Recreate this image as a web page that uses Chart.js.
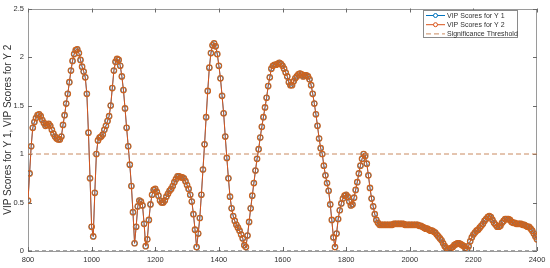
<!DOCTYPE html>
<html>
<head>
<meta charset="utf-8">
<script src="https://cdn.jsdelivr.net/npm/chart.js@4.4.1/dist/chart.umd.min.js"></script>
<style>
  html, body { margin: 0; padding: 0; background: #fff; }
  #wrap { width: 550px; height: 268px; }
</style>
</head>
<body>
<div id="wrap"><canvas id="vipChart" width="550" height="268"></canvas></div>
<script>
// wavelength grid: 800..2400, every 5
const startWavelength = 800;
const stepWavelength = 5;

// VIP scores (Y 1 and Y 2 overlap almost exactly)
const vipY1 = [
  0.52, 0.80, 1.08, 1.27, 1.33, 1.37, 1.40, 1.41, 1.39, 1.35, // 800
  1.32, 1.29, 1.30, 1.31, 1.29, 1.25, 1.21, 1.18, 1.16, 1.15, // 850
  1.15, 1.18, 1.30, 1.40, 1.52, 1.62, 1.74, 1.86, 1.96, 2.03, // 900
  2.07, 2.08, 2.04, 1.97, 1.90, 1.85, 1.79, 1.62, 1.22, 0.75, // 950
  0.25, 0.15, 0.60, 1.00, 1.14, 1.17, 1.18, 1.20, 1.25, 1.29, // 1000
  1.34, 1.39, 1.50, 1.68, 1.86, 1.95, 1.98, 1.97, 1.91, 1.80, // 1050
  1.66, 1.47, 1.27, 1.08, 0.89, 0.67, 0.40, 0.08, 0.25, 0.46, // 1100
  0.52, 0.51, 0.47, 0.28, 0.05, 0.12, 0.32, 0.48, 0.58, 0.63, // 1150
  0.64, 0.61, 0.57, 0.52, 0.50, 0.50, 0.52, 0.56, 0.59, 0.62, // 1200
  0.64, 0.67, 0.71, 0.74, 0.77, 0.77, 0.76, 0.76, 0.75, 0.72, // 1250
  0.68, 0.64, 0.58, 0.51, 0.38, 0.22, 0.04, 0.18, 0.34, 0.58, // 1300
  0.84, 1.10, 1.38, 1.65, 1.89, 2.04, 2.12, 2.14, 2.11, 2.03, // 1350
  1.91, 1.78, 1.60, 1.42, 1.18, 0.96, 0.75, 0.56, 0.44, 0.36, // 1400
  0.31, 0.27, 0.24, 0.21, 0.17, 0.13, 0.06, 0.04, 0.16, 0.30, // 1450
  0.44, 0.57, 0.70, 0.83, 0.95, 1.05, 1.17, 1.28, 1.38, 1.48, // 1500
  1.58, 1.70, 1.79, 1.88, 1.91, 1.92, 1.92, 1.93, 1.94, 1.93, // 1550
  1.91, 1.88, 1.84, 1.80, 1.74, 1.71, 1.71, 1.75, 1.78, 1.80, // 1600
  1.82, 1.83, 1.82, 1.80, 1.81, 1.81, 1.80, 1.77, 1.71, 1.62, // 1650
  1.52, 1.41, 1.29, 1.16, 1.06, 1.00, 0.88, 0.78, 0.70, 0.62, // 1700
  0.48, 0.32, 0.14, 0.04, 0.18, 0.33, 0.42, 0.49, 0.54, 0.57, // 1750
  0.58, 0.56, 0.51, 0.47, 0.48, 0.55, 0.63, 0.71, 0.80, 0.88, // 1800
  0.95, 1.00, 0.98, 0.90, 0.78, 0.65, 0.54, 0.46, 0.38, 0.32, // 1850
  0.29, 0.27, 0.27, 0.27, 0.27, 0.27, 0.27, 0.27, 0.27, 0.27, // 1900
  0.28, 0.28, 0.28, 0.28, 0.28, 0.28, 0.28, 0.27, 0.27, 0.27, // 1950
  0.27, 0.27, 0.27, 0.27, 0.27, 0.27, 0.26, 0.26, 0.25, 0.24, // 2000
  0.23, 0.23, 0.22, 0.21, 0.21, 0.20, 0.19, 0.17, 0.15, 0.13, // 2050
  0.11, 0.08, 0.05, 0.03, 0.02, 0.02, 0.03, 0.04, 0.06, 0.07, // 2100
  0.08, 0.08, 0.07, 0.06, 0.05, 0.03, 0.02, 0.05, 0.10, 0.14, // 2150
  0.17, 0.19, 0.21, 0.22, 0.24, 0.26, 0.28, 0.31, 0.33, 0.35, // 2200
  0.36, 0.35, 0.32, 0.29, 0.27, 0.25, 0.25, 0.26, 0.29, 0.31, // 2250
  0.33, 0.33, 0.33, 0.32, 0.30, 0.29, 0.29, 0.28, 0.28, 0.28, // 2300
  0.28, 0.27, 0.27, 0.26, 0.25, 0.25, 0.23, 0.21, 0.18, 0.15, // 2350
  0.12                                                        // 2400
];
const vipY2 = vipY1.slice();

const wavelengths = vipY1.map((_, i) => startWavelength + i * stepWavelength);

const thresholdX = [800, 2400];
const thresholdY = [1, 1];
const baseY = [0, 0];

const xTicks = [800, 1000, 1200, 1400, 1600, 1800, 2000, 2200, 2400];
const yTicks = [0, 0.5, 1, 1.5, 2, 2.5];

const FONT = "'Liberation Sans', Arial, Helvetica, sans-serif";
const TEXT = "#303030";
const AXIS = "#9a9a9a";

function toPoints(xs, ys) {
  return xs.map((x, i) => ({ x: x, y: ys[i] }));
}

// box around the axes + inward ticks, matlab style
const axesBox = {
  id: "axesBox",
  beforeDatasetsDraw(chart) {
    const { ctx, chartArea: a, scales } = chart;
    ctx.save();
    ctx.strokeStyle = AXIS;
    ctx.lineWidth = 1;
    ctx.strokeRect(Math.round(a.left) + 0.5, Math.round(a.top) + 0.5,
      Math.round(a.width) - 1, Math.round(a.height) - 1);
    ctx.strokeStyle = "#6a6a6a";
    ctx.beginPath();
    xTicks.forEach(v => {
      const px = Math.round(scales.x.getPixelForValue(v)) + 0.5;
      ctx.moveTo(px, a.top); ctx.lineTo(px, a.top + 4);
      ctx.moveTo(px, a.bottom); ctx.lineTo(px, a.bottom - 4);
    });
    yTicks.forEach(v => {
      const py = Math.round(scales.y.getPixelForValue(v)) + 0.5;
      ctx.moveTo(a.left, py); ctx.lineTo(a.left + 4, py);
      ctx.moveTo(a.right, py); ctx.lineTo(a.right - 4, py);
    });
    ctx.stroke();
    ctx.restore();
  }
};

// legend box in the top right corner of the axes
const legendBox = {
  id: "legendBox",
  afterDraw(chart) {
    const { ctx, chartArea: a } = chart;
    const items = chart.data.datasets.filter(d => d.inLegend);
    const w = 95, h = 28;
    const left = Math.round(a.right) - 19 - w;
    const top = Math.round(a.top) + 1;
    ctx.save();
    ctx.fillStyle = "#fff";
    ctx.fillRect(left, top, w, h);
    ctx.strokeStyle = "#8a8a8a";
    ctx.lineWidth = 1;
    ctx.strokeRect(left + 0.5, top + 0.5, w - 1, h - 1);
    ctx.font = "7px " + FONT;
    ctx.textBaseline = "middle";
    items.forEach((d, i) => {
      const cy = top + 5.5 + i * 9.2;
      ctx.strokeStyle = d.borderColor;
      ctx.lineWidth = 1;
      ctx.setLineDash(d.borderDash || []);
      ctx.beginPath();
      ctx.moveTo(left + 3, cy);
      ctx.lineTo(left + 22, cy);
      ctx.stroke();
      ctx.setLineDash([]);
      if (d.pointRadius > 0) {
        ctx.fillStyle = "#fff";
        ctx.beginPath();
        ctx.arc(left + 12.5, cy, 2, 0, Math.PI * 2);
        ctx.fill();
        ctx.stroke();
      }
      ctx.fillStyle = TEXT;
      ctx.fillText(d.label, left + 24, cy + 0.5);
    });
    ctx.restore();
  }
};

new Chart(document.getElementById("vipChart"), {
  type: "line",
  data: {
    datasets: [
      {
        label: "VIP Scores for Y 1",
        data: toPoints(wavelengths, vipY1),
        borderColor: "#0072BD",
        backgroundColor: "rgba(0,0,0,0)",
        borderWidth: 0.8,
        pointRadius: 2.5,
        pointBorderWidth: 1,
        pointBackgroundColor: "rgba(0,0,0,0)",
        pointBorderColor: "#0072BD",
        order: 3,
        inLegend: true
      },
      {
        label: "VIP Scores for Y 2",
        data: toPoints(wavelengths, vipY2),
        borderColor: "#D95319",
        backgroundColor: "rgba(0,0,0,0)",
        borderWidth: 1,
        pointRadius: 2.8,
        pointBorderWidth: 1.1,
        pointBackgroundColor: "rgba(0,0,0,0)",
        pointBorderColor: "#CC6420",
        order: 2,
        inLegend: true
      },
      {
        label: "Significance Threshold",
        data: toPoints(thresholdX, thresholdY),
        borderColor: "#C98a60",
        borderWidth: 1,
        borderDash: [5, 3],
        pointRadius: 0,
        order: 1,
        inLegend: true
      },
      {
        label: "zero",
        data: toPoints(thresholdX, baseY),
        borderColor: "#4a4a4a",
        borderWidth: 1,
        borderDash: [4, 3],
        pointRadius: 0,
        order: 0,
        inLegend: false
      }
    ]
  },
  options: {
    responsive: false,
    devicePixelRatio: 1,
    animation: false,
    layout: { padding: { left: 0, right: 13, top: 6, bottom: 0 } },
    plugins: {
      legend: { display: false },
      tooltip: { enabled: false }
    },
    scales: {
      x: {
        type: "linear",
        min: 800,
        max: 2400,
        afterFit(scale) { scale.height = 17; },
        afterBuildTicks(scale) { scale.ticks = xTicks.map(v => ({ value: v })); },
        ticks: {
          autoSkip: false,
          maxRotation: 0,
          padding: 4,
          color: TEXT,
          font: { family: FONT, size: 7.5 },
          callback: v => String(v)
        },
        grid: { display: false, drawTicks: false },
        border: { display: false }
      },
      y: {
        min: 0,
        max: 2.5,
        afterFit(scale) { scale.width = 28; },
        afterBuildTicks(scale) { scale.ticks = yTicks.map(v => ({ value: v })); },
        ticks: {
          padding: 4,
          color: TEXT,
          font: { family: FONT, size: 7.5 },
          callback: v => String(v)
        },
        grid: { display: false, drawTicks: false },
        border: { display: false },
        title: {
          display: true,
          text: "VIP Scores for Y 1, VIP Scores for Y 2",
          color: TEXT,
          font: { family: FONT, size: 10 },
          padding: { top: 2, bottom: 2 }
        }
      }
    }
  },
  plugins: [axesBox, legendBox]
});
</script>
</body>
</html>
